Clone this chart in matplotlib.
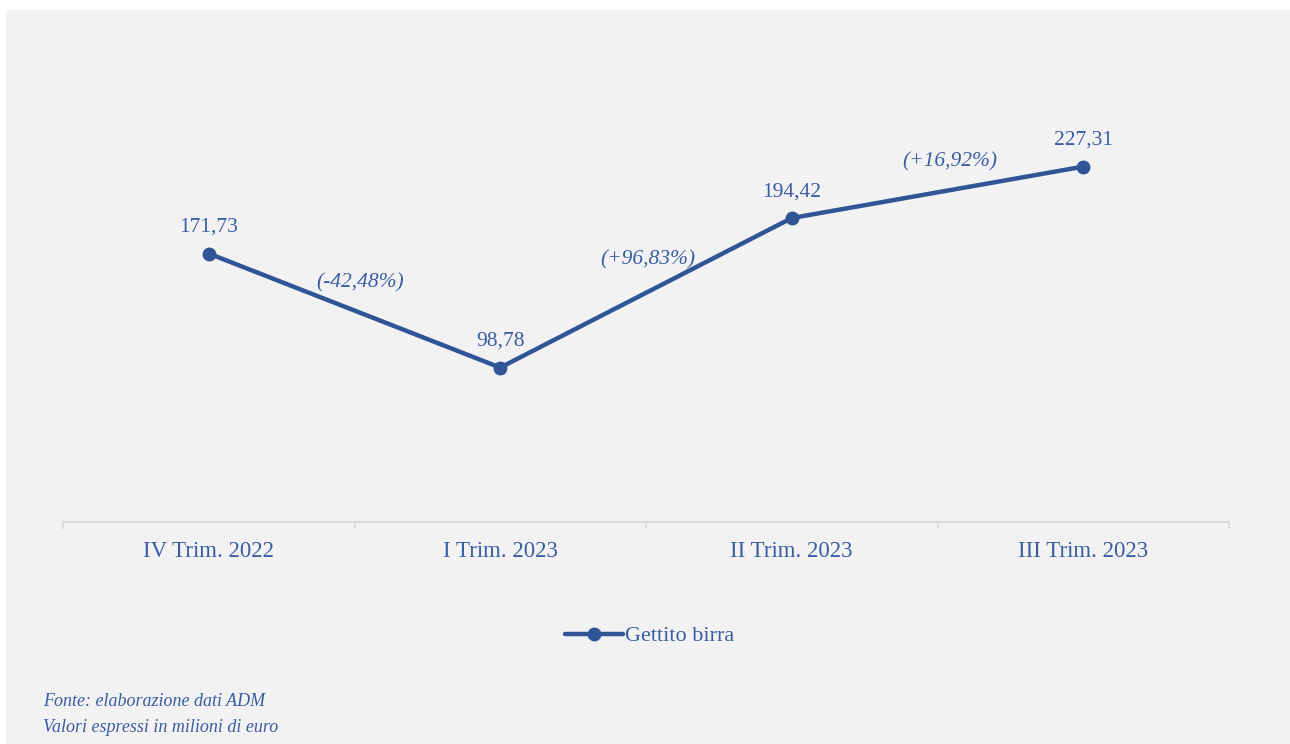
import matplotlib
matplotlib.use("Agg")
import matplotlib.pyplot as plt
from matplotlib.patches import Rectangle

# Data
categories = ["IV Trim. 2022", "I Trim. 2023", "II Trim. 2023", "III Trim. 2023"]
values = [171.73, 98.78, 194.42, 227.31]
value_labels = ["171,73", "98,78", "194,42", "227,31"]
change_labels = ["(-42,48%)", "(+96,83%)", "(+16,92%)"]
series_name = "Gettito birra"
notes = ["Fonte: elaborazione dati ADM", "Valori espressi in milioni di euro"]

LINE_COLOR = "#2f5597"
TEXT_COLOR = "#3a5ca3"
BG_COLOR = "#f2f2f2"
AXIS_COLOR = "#d9d9d9"

plt.rcParams["font.family"] = ["Liberation Serif", "DejaVu Serif"]

W, H = 1290, 744
fig = plt.figure(figsize=(W / 100, H / 100), dpi=100)
fig.patch.set_facecolor("white")
fig.patches.append(Rectangle((6 / W, 0), 1 - 6 / W, 1 - 10 / H,
                             transform=fig.transFigure, facecolor=BG_COLOR,
                             edgecolor="none", zorder=-10))

ax = fig.add_axes([63 / W, (H - 522) / H, (1229 - 63) / W, (522 - 53) / H])
ax.set_facecolor("none")
ax.set_zorder(1)

x = list(range(len(categories)))
ax.plot(x, values, color=LINE_COLOR, lw=3.2, marker="o", ms=9,
        solid_capstyle="round", label=series_name, zorder=3)

ax.set_xlim(-0.5, len(categories) - 0.5)
ax.set_ylim(0, 300)

# value labels
for xi, v, lab in zip(x, values, value_labels):
    ax.annotate(lab, (xi, v), xytext=(0, 19), textcoords="offset points",
                ha="center", va="center", fontsize=15.5, color=TEXT_COLOR)

# percentage change labels at segment midpoints
offsets = [(4, 20), (1, 24), (9, 22)]
for i, lab in enumerate(change_labels):
    mx = (x[i] + x[i + 1]) / 2
    my = (values[i] + values[i + 1]) / 2
    ax.annotate(lab, (mx, my), xytext=offsets[i], textcoords="offset points",
                ha="center", va="center", fontsize=15.5, style="italic",
                color=TEXT_COLOR)

# axes styling
for s in ["top", "right", "left"]:
    ax.spines[s].set_visible(False)
ax.spines["bottom"].set_color(AXIS_COLOR)
ax.spines["bottom"].set_linewidth(1.3)
ax.set_yticks([])
ax.set_xticks([i - 0.5 for i in range(len(categories) + 1)], minor=False)
ax.set_xticklabels([])
ax.tick_params(axis="x", which="major", length=5, width=1.2, color=AXIS_COLOR)
ax.set_xticks(x, minor=True)
ax.set_xticklabels(categories, minor=True, fontsize=16.5, color=TEXT_COLOR)
ax.tick_params(axis="x", which="minor", length=0, pad=14)

leg = fig.legend(loc="center", bbox_to_anchor=(650 / W, (H - 636) / H),
                 frameon=False, fontsize=16, handlelength=2.6,
                 handletextpad=0.1)
for t in leg.get_texts():
    t.set_color(TEXT_COLOR)

for i, line in enumerate(notes):
    fig.text(43 / W, (H - 701 - 26 * i) / H, line, ha="left", va="center",
             fontsize=13, style="italic", color=TEXT_COLOR)

fig.savefig("out.png", dpi=100, facecolor=fig.get_facecolor())
